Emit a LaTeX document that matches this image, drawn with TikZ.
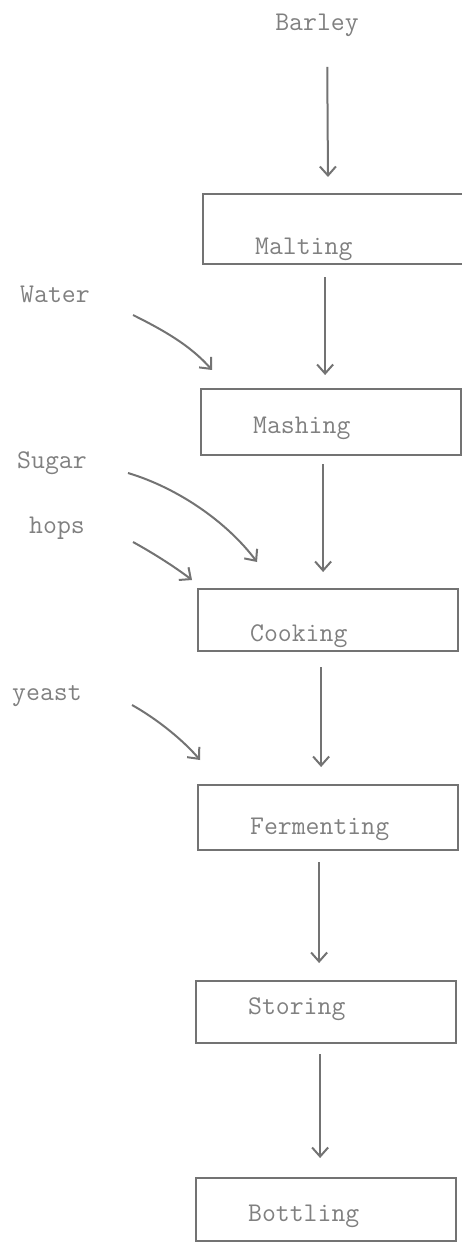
\documentclass[tikz,border=0pt]{standalone}
\usepackage{fontspec}
\usetikzlibrary{arrows.meta, positioning, calc}

\begin{document}
\begin{tikzpicture}[
    x=0.5pt, y=-0.5pt,
    >={Straight Barb[length=4.5pt, width=8pt]},
    stage/.style={rectangle, draw=black!55, line width=1.1pt, anchor=north west, minimum width=130pt, inner xsep=26pt, inner ysep=0pt, text width=78pt, align=left, font=\fontsize{13.5}{15}\selectfont\ttfamily, text=black!50},
    ingredient/.style={anchor=base, inner sep=2pt, font=\fontsize{13.5}{15}\selectfont\ttfamily, text=black!50},
    arrow/.style={->, line width=1pt, draw=black!55}
]
\useasboundingbox (0,0) rectangle (461,1245);

% BRAU-STUFEN
\node[ingredient] (barley) at (317,31) {Barley};
\node[stage, text height=30pt, text depth=5pt] (malting) at (202,193) {Malting};
\node[stage, text height=22pt, text depth=11pt] (mashing) at (200,388) {Mashing};
\node[stage, text height=26pt, text depth=5pt] (cooking) at (197,588) {Cooking};
\node[stage, text height=24.5pt, text depth=8pt] (fermenting) at (197,784) {Fermenting};
\node[stage, text height=16.5pt, text depth=14.5pt] (storing) at (195,980) {Storing};
\node[stage, text height=21.5pt, text depth=10pt] (bottling) at (195,1177) {Bottling};

\draw[arrow, shorten <=18pt, shorten >=8pt] ([xshift=5pt]barley.base) -- ([xshift=-2.5pt]malting.north);
\draw[arrow, shorten <=6pt, shorten >=6.5pt] ([xshift=-4pt]malting.south) -- ([xshift=-3pt]mashing.north);
\draw[arrow, shorten <=4pt, shorten >=8pt] ([xshift=-4pt]mashing.south) -- ([xshift=-2.5pt]cooking.north);
\draw[arrow, shorten <=7.5pt, shorten >=8.5pt] ([xshift=-3.5pt]cooking.south) -- ([xshift=-3.5pt]fermenting.north);
\draw[arrow, shorten <=5.5pt, shorten >=8.5pt] ([xshift=-4.5pt]fermenting.south) -- ([xshift=-3.5pt]storing.north);
\draw[arrow, shorten <=5pt, shorten >=9.5pt] ([xshift=-3pt]storing.south) -- ([xshift=-3pt]bottling.north);

% ZUTATEN
\node[ingredient] (water) at (55,303) {Water};
\node[ingredient] (sugar) at (52,468) {Sugar};
\node[ingredient] (hops) at (57,533) {hops};
\node[ingredient] (yeast) at (47,700) {yeast};

\draw[arrow] ($(water.base)+(78,12)$) .. controls +(30,15) and +(-22,-25) .. ($(mashing.north west)+(12,-18)$);
\draw[arrow] ($(sugar.base)+(76,5)$) .. controls +(50,15) and +(-30,-40) .. ($(cooking.north west)+(60,-26)$);
\draw[arrow] ($(hops.base)+(76,9)$) .. controls +(20,11) and +(-17,-13) .. ($(cooking.north west)+(-5,-8)$);
\draw[arrow] ($(yeast.base)+(85,5)$) .. controls +(25,14) and +(-17,-20) .. ($(fermenting.north west)+(3,-24)$);

\end{tikzpicture}
\end{document}
